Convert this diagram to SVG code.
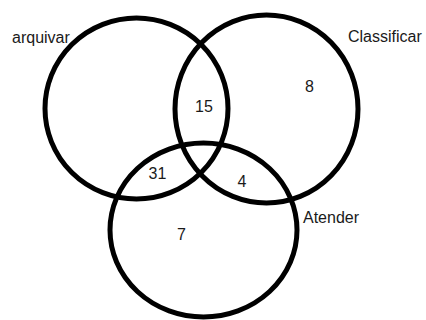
<svg xmlns="http://www.w3.org/2000/svg" width="426" height="320" viewBox="0 0 426 320">
<style>
.set{fill:none;stroke:#000;stroke-width:5}
.lbl{font-family:"Liberation Sans",Arial,sans-serif;font-size:16px;fill:#1a1a1a}
</style>
<rect width="426" height="320" fill="#fff"/>
<g id="arquivar">
<ellipse class="set" cx="136.5" cy="108.5" rx="91.5" ry="90.5"/>
<text class="lbl" x="12" y="43">arquivar</text>
</g>
<g id="classificar">
<ellipse class="set" cx="266.5" cy="109" rx="91.5" ry="94"/>
<text class="lbl" x="348" y="42">Classificar</text>
</g>
<g id="atender">
<ellipse class="set" cx="203.5" cy="230" rx="93.5" ry="87"/>
<text class="lbl" x="303" y="222.5">Atender</text>
</g>
<g id="counts">
<text class="lbl" x="195" y="111.5">15</text>
<text class="lbl" x="305" y="91.5">8</text>
<text class="lbl" x="148.5" y="178.5">31</text>
<text class="lbl" x="237.5" y="186.5">4</text>
<text class="lbl" x="177" y="240">7</text>
</g>
</svg>
